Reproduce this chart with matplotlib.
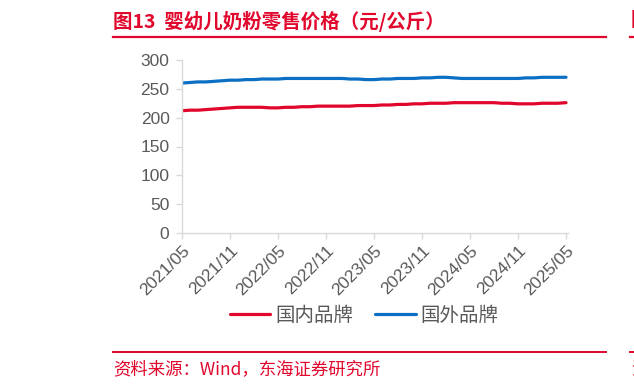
import numpy as np
import matplotlib
matplotlib.use("Agg")
import matplotlib.pyplot as plt
from matplotlib.lines import Line2D

plt.rcParams['font.family'] = ['Liberation Sans', 'Noto Sans CJK SC', 'DejaVu Sans']

# monthly, 2021/05 .. 2025/05
months = ["%d/%02d" % (2021 + (4 + i) // 12, (4 + i) % 12 + 1) for i in range(49)]
domestic = [212, 213, 213, 214, 215, 216, 217,
            218, 218, 218, 218, 217, 217,
            218, 218, 219, 219, 220, 220,
            220, 220, 220, 221, 221, 221,
            222, 222, 223, 223, 224, 224,
            225, 225, 225, 226, 226, 226,
            226, 226, 226, 225, 225, 224,
            224, 224, 225, 225, 225, 226]
foreign = [260, 261, 262, 262, 263, 264, 265,
           265, 266, 266, 267, 267, 267,
           268, 268, 268, 268, 268, 268,
           268, 268, 267, 267, 266, 266,
           267, 267, 268, 268, 268, 269,
           269, 270, 270, 269, 268, 268,
           268, 268, 268, 268, 268, 268,
           269, 269, 270, 270, 270, 270]
series_names = ["国内品牌", "国外品牌"]
title = "图13  婴幼儿奶粉零售价格（元/公斤）"
source = "资料来源：Wind，东海证券研究所"

RED = "#E1062C"
BLUE = "#0B6FC3"
GRAY = "#595959"
AXIS = "#D9D9D9"

fig = plt.figure(figsize=(6.34, 3.91), dpi=100)
ax = fig.add_axes([182 / 634, 1 - 233 / 391, 386 / 634, 173 / 391])

x = np.arange(len(months))
ax.plot(x, domestic, color=RED, lw=2.3, label=series_names[0], solid_capstyle='round')
ax.plot(x, foreign, color=BLUE, lw=2.3, label=series_names[1], solid_capstyle='round')

ax.set_ylim(0, 300)
ax.set_yticks(range(0, 301, 50))
ax.set_xlim(0, 48.25)
tick_pos = list(range(0, 49, 6))
ax.set_xticks(tick_pos)
ax.set_xticklabels([months[i] for i in tick_pos], rotation=45, ha='right',
                   rotation_mode='anchor')

for s in ['top', 'right']:
    ax.spines[s].set_visible(False)
for s in ['left', 'bottom']:
    ax.spines[s].set_color(AXIS)
    ax.spines[s].set_linewidth(1.0)
ax.tick_params(axis='both', colors=AXIS, length=4, width=1.0, labelcolor=GRAY,
               labelsize=12.5)
ax.tick_params(axis='y', pad=5)
ax.tick_params(axis='x', pad=3)

fig.legend(loc='center', bbox_to_anchor=(364 / 634, 1 - 315 / 391), ncol=2,
           frameon=False, handlelength=2.1, handletextpad=0.25, columnspacing=1.1,
           prop={'family': ['Noto Sans CJK SC'], 'size': 14}, labelcolor=GRAY)

# header / footer
fig.text(113 / 634, 1 - 21 / 391, title, color=RED, fontsize=14, fontweight='bold',
         va='center', ha='left', family=['Noto Sans CJK SC'])
fig.add_artist(Line2D([113 / 634, 606 / 634], [1 - 37 / 391] * 2, color=RED, lw=1.6))
fig.add_artist(Line2D([113 / 634, 606 / 634], [1 - 352 / 391] * 2, color=RED, lw=1.4))
fig.text(113 / 634, 1 - 369 / 391, source, color=RED, fontsize=12.5,
         va='center', ha='left', family=['Noto Sans CJK SC'])

# neighbouring panel cut off at the right edge
fig.add_artist(Line2D([630 / 634, 1.0], [1 - 37 / 391] * 2, color=RED, lw=1.6))
fig.add_artist(Line2D([630 / 634, 1.0], [1 - 352 / 391] * 2, color=RED, lw=1.4))
fig.text(631 / 634, 1 - 21 / 391, "图", color=RED, fontsize=14, fontweight='bold',
         va='center', ha='left', family=['Noto Sans CJK SC'])
fig.text(631 / 634, 1 - 369 / 391, "资", color=RED, fontsize=12.5,
         va='center', ha='left', family=['Noto Sans CJK SC'])

fig.savefig("out.png", dpi=100)
